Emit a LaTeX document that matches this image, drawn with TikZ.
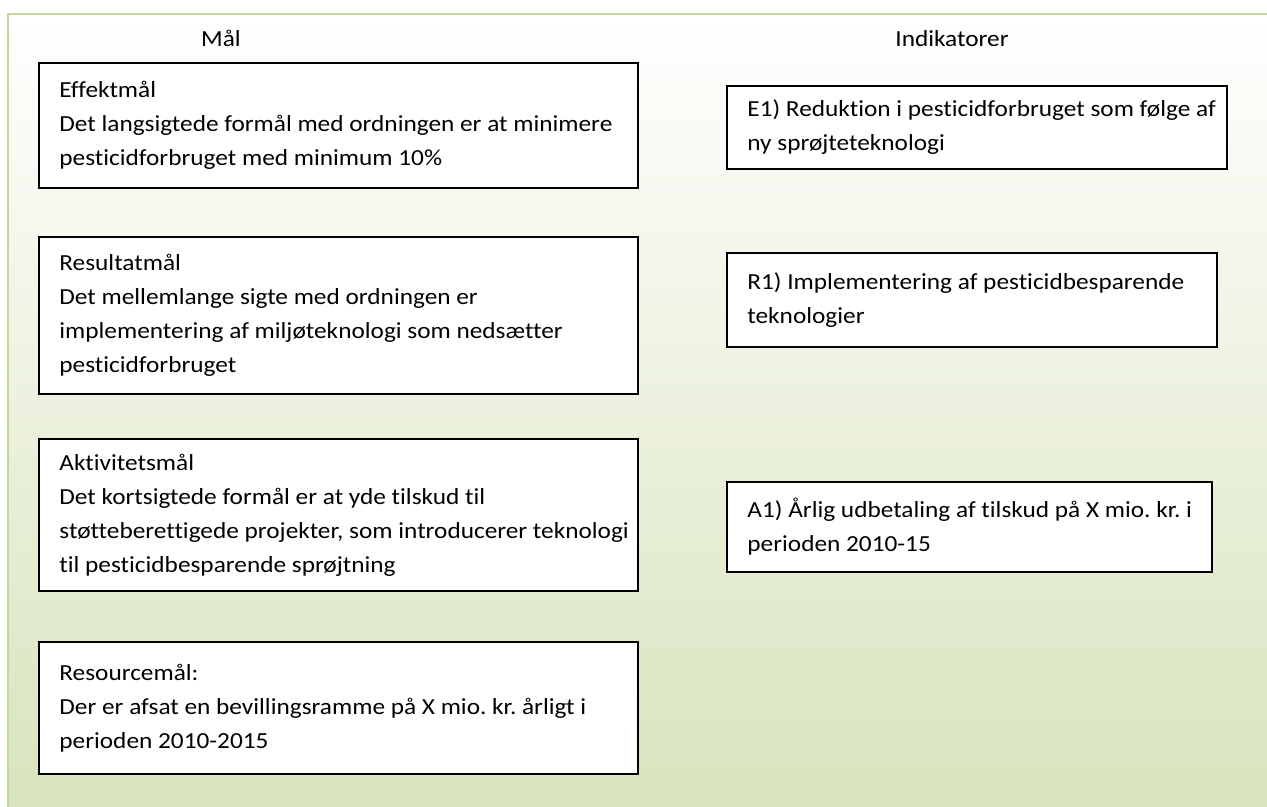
\documentclass[tikz,border=0pt]{standalone}
\usepackage{fontspec}
\setmainfont{Carlito}[Ligatures=NoCommon, FakeStretch=1.1]
\frenchspacing
\usetikzlibrary{positioning}
\definecolor{framegreen}{HTML}{C3D69B}
\definecolor{bgmid}{HTML}{EEF2E3}
\definecolor{bggreen}{HTML}{D7E3BC}

\begin{document}
\begin{tikzpicture}
  [x=0.5pt, y=-0.5pt,
  bsty/.style={draw=black, line width=1pt, fill=white, anchor=north west, inner sep=0pt},
  tsty/.style={align=left, inner sep=0pt, font=\fontsize{11.5}{17}\selectfont},
  hsty/.style={anchor=base, inner sep=0pt, font=\fontsize{11.5}{17}\selectfont}]
  \useasboundingbox (0,0) rectangle (1267,807);
  % background
  \shade[top color=white, middle color=bgmid, bottom color=bggreen] (8,14) rectangle (1280,820);
  \draw[framegreen, line width=1.3pt] (8,830) -- (8,14) -- (1290,14);
  % headers
  \node[hsty] (mal) at (221,47) {Mål};
  \node[hsty] (ind) at (952,47) {Indikatorer};
  % goals
  \node[bsty, minimum width=299.5pt, minimum height=62.5pt] (eff) at (38,62) {};
  \node[tsty, right=10.5pt of eff.west] (efft) {Effektmål\\Det langsigtede formål med ordningen er at minimere\\pesticidforbruget med minimum 10\%};
  \node[bsty, minimum width=299.5pt, minimum height=78.5pt] (res) at (38,236) {};
  \node[tsty, right=10.5pt of res.west] (rest) {Resultatmål\\Det mellemlange sigte med ordningen er\\implementering af miljøteknologi som nedsætter\\pesticidforbruget};
  \node[bsty, minimum width=299.5pt, minimum height=76pt] (akt) at (38,438) {};
  \node[tsty, right=10.5pt of akt.west] (aktt) {Aktivitetsmål\\Det kortsigtede formål er at yde tilskud til\\støtteberettigede projekter, som introducerer teknologi\\til pesticidbesparende sprøjtning};
  \node[bsty, minimum width=299.5pt, minimum height=66pt] (rsc) at (38,641) {};
  \node[tsty, right=10.5pt of rsc.west] (rsct) {Resourcemål:\\Der er afsat en bevillingsramme på X mio. kr. årligt i\\perioden 2010-2015};
  % indicators
  \node[bsty, minimum width=250pt, minimum height=41.5pt] (e1) at (726,85) {};
  \node[tsty, right=10.5pt of e1.west] (e1t) {E1) Reduktion i pesticidforbruget som følge af\\ny sprøjteteknologi};
  \node[bsty, minimum width=245pt, minimum height=47pt] (r1) at (726,252) {};
  \node[tsty, right=10.5pt of r1.west] (r1t) {R1) Implementering af pesticidbesparende\\teknologier};
  \node[bsty, minimum width=242.5pt, minimum height=45pt] (a1) at (726,481) {};
  \node[tsty, right=10.5pt of a1.west] (a1t) {A1) Årlig udbetaling af tilskud på X mio. kr. i\\perioden 2010-15};
\end{tikzpicture}
\end{document}
